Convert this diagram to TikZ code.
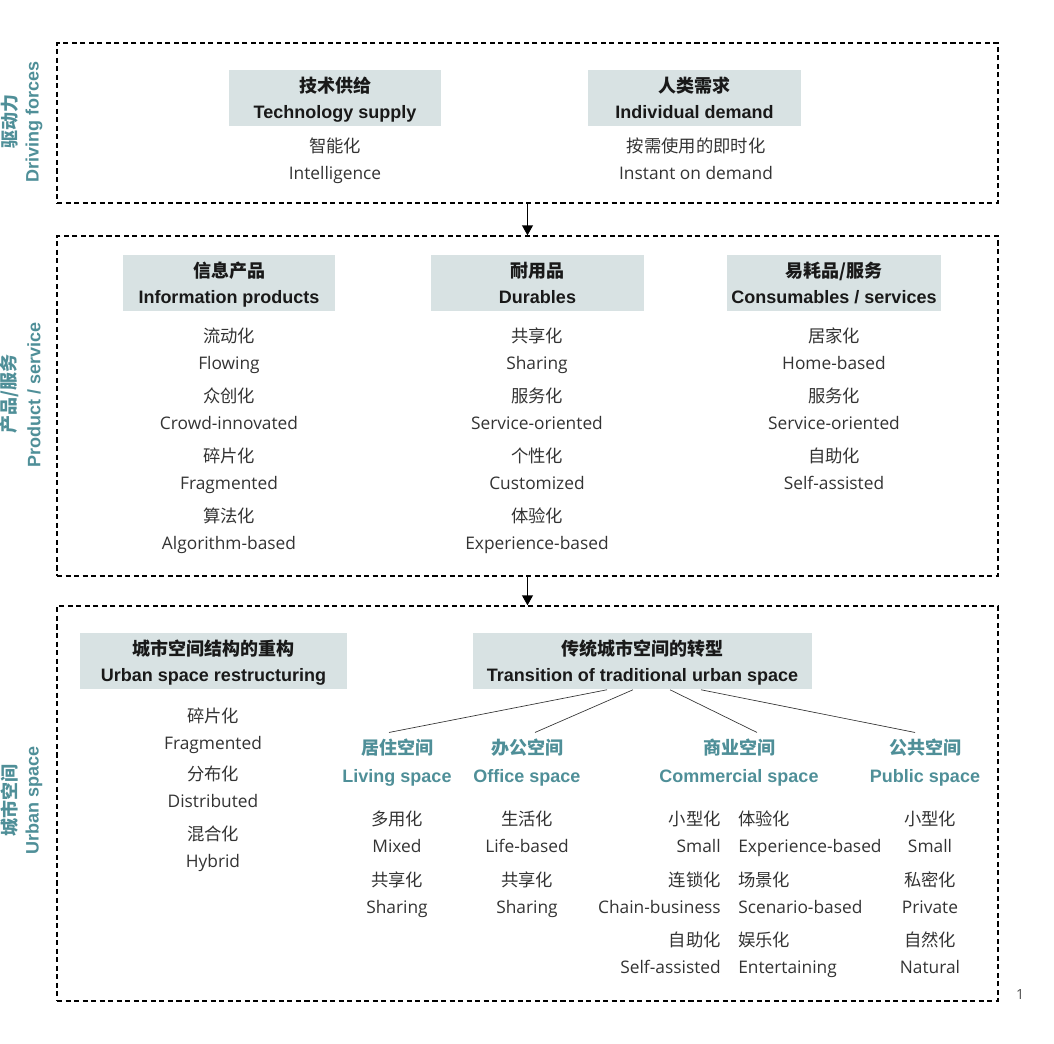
\documentclass[tikz,border=0pt]{standalone}
\usepackage{fontspec}
\setmainfont{Open Sans}
\newfontfamily\cjk{Noto Sans CJK SC}
\newfontfamily\arial{Liberation Sans}
\usetikzlibrary{arrows.meta}
\definecolor{headfill}{HTML}{D8E2E3}
\definecolor{spaceteal}{HTML}{4F8F98}
\definecolor{bodygray}{HTML}{333333}
\def\px{0.75pt}
\tikzset{
  frame/.style = {draw, dash pattern=on 3.8pt off 2.6pt, line width=0.9pt,
                  inner sep=0pt, minimum width=941*\px},
  head/.style = {fill=headfill, align=center, inner sep=0pt,
                 minimum height=56*\px, text=black!90,
                 font=\fontsize{13.5}{19.5}\selectfont},
  entry/.style = {align=center, inner sep=0pt, text=bodygray, yshift=-1.5pt,
                  font=\fontsize{13}{20.25}\selectfont},
  kind/.style = {align=center, inner sep=0pt, text=spaceteal,
                 font=\fontsize{13.5}{21}\selectfont},
  side/.style = {rotate=90, inner sep=0pt, text=spaceteal,
                 font=\fontsize{13.5}{16}\selectfont},
  flow/.style = {-{Triangle[length=7.5pt,width=8pt]}, line width=1.3pt},
  branch/.style = {line width=0.5pt, black!80}
}

\begin{document}
\begin{tikzpicture}[x=0.75pt, y=-0.75pt]
	\useasboundingbox (0,0) rectangle (1054,1044);
	\def\entrytext#1#2{{\cjk\strut #1}\\{\strut #2}}
	\def\headtext#1#2{{\cjk\bfseries\rule{0pt}{16.6pt}#1}\\{\arial\bfseries\strut #2}}

	% Frames
	\node[frame, minimum height=160*\px] (drive) at (527.5,123) {};
	\node[frame, minimum height=340*\px] (prod)  at (527.5,406) {};
	\node[frame, minimum height=395*\px] (urban) at (527.5,803.5) {};
	\draw[flow] (drive) -- (prod);
	\draw[flow] (prod) -- (urban);

	% Side labels
	\node[side] (drive-en) at (34,122) {\arial\bfseries Driving forces};
	\node[side] (drive-cn) at (9.5,122)  {\cjk\bfseries 驱动力};
	\node[side] (prod-en)  at (34,395) {\arial\bfseries Product / service};
	\node[side] (prod-cn)  at (9.5,394)  {\cjk\bfseries 产品/服务};
	\node[side] (urban-en) at (34,800) {\arial\bfseries Urban space};
	\node[side] (urban-cn) at (9.5,800)  {\cjk\bfseries 城市空间};

	% Driving forces
	\node[head, minimum width=212*\px] (tech) at (335,98)   {\headtext{技术供给}{Technology supply}};
	\node[head, minimum width=213*\px] (need) at (694.5,98) {\headtext{人类需求}{Individual demand}};
	\node[entry] (tech-1) at (335,159) {\entrytext{智能化}{Intelligence}};
	\node[entry] (need-1) at (696,159) {\entrytext{按需使用的即时化}{Instant on demand}};

	% Product / service
	\node[head, minimum width=212*\px] (info) at (229,283)   {\headtext{信息产品}{Information products}};
	\node[head, minimum width=213*\px] (dura) at (537.5,283) {\headtext{耐用品}{Durables}};
	\node[head, minimum width=214*\px] (cons) at (834,283)   {\headtext{易耗品/服务}{Consumables / services}};

	\node[entry] (info-1) at (229,349) {\entrytext{流动化}{Flowing}};
	\node[entry] (info-2) at (229,409) {\entrytext{众创化}{Crowd-innovated}};
	\node[entry] (info-3) at (229,469) {\entrytext{碎片化}{Fragmented}};
	\node[entry] (info-4) at (229,529) {\entrytext{算法化}{Algorithm-based}};

	\node[entry] (dura-1) at (537,349) {\entrytext{共享化}{Sharing}};
	\node[entry] (dura-2) at (537,409) {\entrytext{服务化}{Service-oriented}};
	\node[entry] (dura-3) at (537,469) {\entrytext{个性化}{Customized}};
	\node[entry] (dura-4) at (537,529) {\entrytext{体验化}{Experience-based}};

	\node[entry] (cons-1) at (834,349) {\entrytext{居家化}{Home-based}};
	\node[entry] (cons-2) at (834,409) {\entrytext{服务化}{Service-oriented}};
	\node[entry] (cons-3) at (834,469) {\entrytext{自助化}{Self-assisted}};

	% Urban space
	\node[head, minimum width=267*\px] (restr) at (213.5,661.5) {\headtext{城市空间结构的重构}{Urban space restructuring}};
	\node[head, minimum width=339*\px] (trans) at (642.5,661.5) {\headtext{传统城市空间的转型}{Transition of traditional urban space}};

	\node[entry] (restr-1) at (213,729) {\entrytext{碎片化}{Fragmented}};
	\node[entry] (restr-2) at (213,787) {\entrytext{分布化}{Distributed}};
	\node[entry] (restr-3) at (213,847) {\entrytext{混合化}{Hybrid}};

	\node[kind] (living) at (397,762) {\headtext{居住空间}{Living space}};
	\node[kind] (office) at (527,762) {\headtext{办公空间}{Office space}};
	\node[kind] (comm)   at (739,762) {\headtext{商业空间}{Commercial space}};
	\node[kind] (public) at (925,762) {\headtext{公共空间}{Public space}};

	\draw[branch] ([xshift=-35.5*\px]trans.south) -- ([xshift=-8*\px]living.north);
	\draw[branch] ([xshift=-9.5*\px]trans.south)  -- ([xshift=8*\px]office.north);
	\draw[branch] ([xshift=27.5*\px]trans.south)  -- ([xshift=18*\px]comm.north);
	\draw[branch] ([xshift=58.5*\px]trans.south)  -- ([xshift=-10*\px]public.north);

	\node[entry] (living-1) at (397,832) {\entrytext{多用化}{Mixed}};
	\node[entry] (living-2) at (397,893) {\entrytext{共享化}{Sharing}};
	\node[entry] (office-1) at (527,832) {\entrytext{生活化}{Life-based}};
	\node[entry] (office-2) at (527,893) {\entrytext{共享化}{Sharing}};

	\node[entry, anchor=east, align=right] (comm-1) at (721,832) {\entrytext{小型化}{Small}};
	\node[entry, anchor=east, align=right] (comm-2) at (721,893) {\entrytext{连锁化}{Chain-business}};
	\node[entry, anchor=east, align=right] (comm-3) at (721,953) {\entrytext{自助化}{Self-assisted}};
	\node[entry, anchor=west, align=left]  (comm-4) at (738,832) {\entrytext{体验化}{Experience-based}};
	\node[entry, anchor=west, align=left]  (comm-5) at (738,893) {\entrytext{场景化}{Scenario-based}};
	\node[entry, anchor=west, align=left]  (comm-6) at (738,953) {\entrytext{娱乐化}{Entertaining}};

	\node[entry] (public-1) at (930,832) {\entrytext{小型化}{Small}};
	\node[entry] (public-2) at (930,893) {\entrytext{私密化}{Private}};
	\node[entry] (public-3) at (930,953) {\entrytext{自然化}{Natural}};

	\node[text=black!70, font=\fontsize{10.5}{12}\selectfont] (fig-no) at (1020,995) {1};
\end{tikzpicture}
\end{document}
